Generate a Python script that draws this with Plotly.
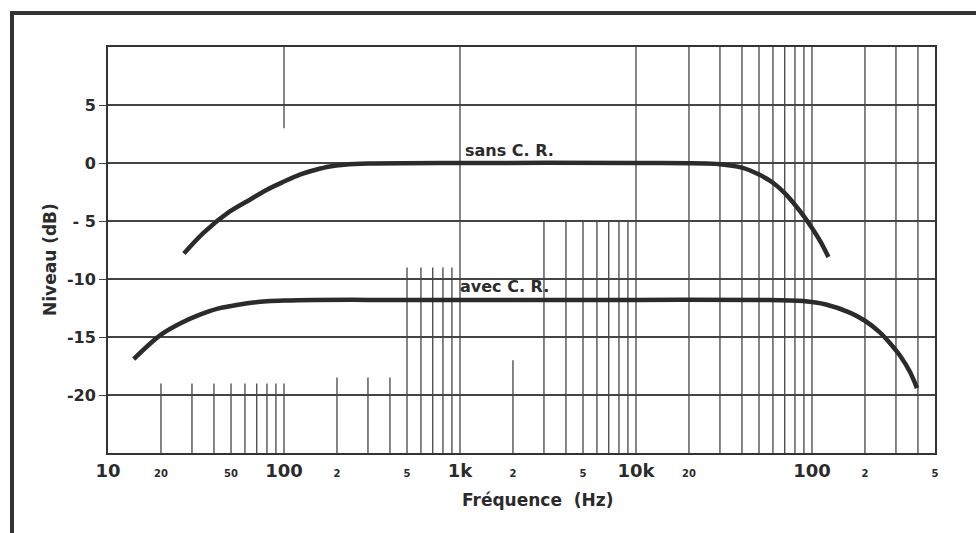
import math
import plotly.graph_objects as go

# ---- data ----
freq_sans = [27, 35, 49, 65, 80, 100, 123, 150, 182, 220, 300, 1000, 10000, 30000,
             40000, 50000, 60000, 70000, 80000, 90000, 100000, 112000, 124000]
db_sans = [-7.8, -6.0, -4.2, -3.1, -2.3, -1.6, -1.0, -0.6, -0.3, -0.15, -0.05, 0.0, 0.0, -0.1,
           -0.4, -1.0, -1.7, -2.6, -3.6, -4.6, -5.6, -6.8, -8.1]

freq_avec = [14, 20, 26, 33, 42, 51, 65, 80, 100, 150, 300, 1000, 10000, 50000,
             89000, 120000, 164000, 200000, 243000, 280000, 316000, 360000, 395000]
db_avec = [-16.9, -14.8, -13.8, -13.1, -12.55, -12.3, -12.05, -11.92, -11.85, -11.8, -11.8, -11.8,
           -11.8, -11.8, -11.9, -12.2, -12.9, -13.6, -14.6, -15.6, -16.6, -18.0, -19.4]

x_tick_vals = [10, 20, 50, 100, 200, 500, 1000, 2000, 5000, 10000, 20000, 100000, 200000, 500000]
x_tick_text = ["10", "20", "50", "100", "2", "5", "1k", "2", "5", "10k", "20", "100", "2", "5"]
x_tick_big = ["10", "100", "1k", "10k"]

y_tick_vals = [5, 0, -5, -10, -15, -20]
y_tick_text = ["5", "0", "- 5", "-10", "-15", "-20"]

label_sans = "sans C. R."
label_avec = "avec C. R."

# vertical grid (decade, multipliers, y_from, y_to) mimicking the printed paper
vgrid = [
    (10, [2, 3, 4, 5, 6, 7, 8, 9], -25, -19),
    (100, [1], -25, -19),
    (100, [1], 3, 10),
    (100, [2, 3, 4], -25, -18.5),
    (100, [5, 6, 7, 8, 9], -25, -9),
    (1000, [1], -25, 10),
    (1000, [2], -25, -17),
    (1000, [3, 4, 5, 6, 7, 8, 9], -25, -5),
    (10000, [1, 2, 3, 4, 5, 6, 7, 8, 9], -25, 10),
    (100000, [1, 2, 3, 4], -25, 10),
]

INK = "#2b2b2b"
FONT = "DejaVu Sans"

fig = go.Figure()

fig.add_trace(go.Scatter(x=freq_sans, y=db_sans, mode="lines",
                         line=dict(color=INK, width=4.5, shape="spline", smoothing=0.9),
                         hoverinfo="skip", showlegend=False))
fig.add_trace(go.Scatter(x=freq_avec, y=db_avec, mode="lines",
                         line=dict(color=INK, width=4.5, shape="spline", smoothing=0.9),
                         hoverinfo="skip", showlegend=False))

shapes = []
for dec, mults, y0, y1 in vgrid:
    for m in mults:
        xv = dec * m
        shapes.append(dict(type="line", xref="x", yref="y", x0=xv, x1=xv, y0=y0, y1=y1,
                           line=dict(color="#444444", width=1.3), layer="below"))

# outer frame of the scanned page
L, R, T, B = 108, 935, 47, 453
def px_x(p):
    return (p - L) / (R - L)
def px_y(p):
    return (B - p) / (B - T)
shapes.append(dict(type="rect", xref="paper", yref="paper",
                   x0=px_x(12), x1=px_x(1000), y0=px_y(560), y1=px_y(13),
                   line=dict(color="#333333", width=4), fillcolor="rgba(0,0,0,0)"))

ticktext = []
for t in x_tick_text:
    if t in x_tick_big:
        ticktext.append(t)
    else:
        ticktext.append("<span style='font-size:10px'>" + t + "</span>")

annotations = [
    dict(x=math.log10(1900), y=0, xref="x", yref="y", text=label_sans, showarrow=False,
         xanchor="center", yanchor="bottom", yshift=1,
         font=dict(family=FONT, size=16, color=INK, weight="bold")),
    dict(x=math.log10(1800), y=-11.8, xref="x", yref="y", text=label_avec, showarrow=False,
         xanchor="center", yanchor="bottom", yshift=2,
         font=dict(family=FONT, size=16, color=INK, weight="bold")),
    dict(x=px_x(537), y=px_y(500), xref="paper", yref="paper", text="Fréquence  (Hz)",
         showarrow=False, xanchor="center", yanchor="middle",
         font=dict(family=FONT, size=17, color=INK, weight="bold")),
    dict(x=px_x(50), y=px_y(260), xref="paper", yref="paper", text="Niveau (dB)",
         showarrow=False, textangle=-90, xanchor="center", yanchor="middle",
         font=dict(family=FONT, size=17, color=INK, weight="bold")),
]

fig.update_layout(
    width=976, height=533,
    margin=dict(l=L, r=976 - R, t=T, b=533 - B),
    paper_bgcolor="white", plot_bgcolor="white",
    font=dict(family=FONT, color=INK, size=16),
    shapes=shapes, annotations=annotations,
    xaxis=dict(type="log", range=[1, math.log10(500000)],
               tickmode="array", tickvals=x_tick_vals, ticktext=ticktext,
               tickfont=dict(family=FONT, size=18, color=INK, weight="bold"),
               showgrid=False, zeroline=False, ticks="",
               showline=True, linecolor="#333333", linewidth=2, mirror=True),
    yaxis=dict(range=[-25, 10], tickmode="array", tickvals=y_tick_vals, ticktext=y_tick_text,
               tickfont=dict(family=FONT, size=16, color=INK, weight="bold"),
               showgrid=True, gridcolor="#444444", gridwidth=1.5, zeroline=False,
               ticks="outside", ticklen=7, tickcolor="#444444",
               showline=True, linecolor="#333333", linewidth=2, mirror=True),
)

fig.write_html("out.html")
